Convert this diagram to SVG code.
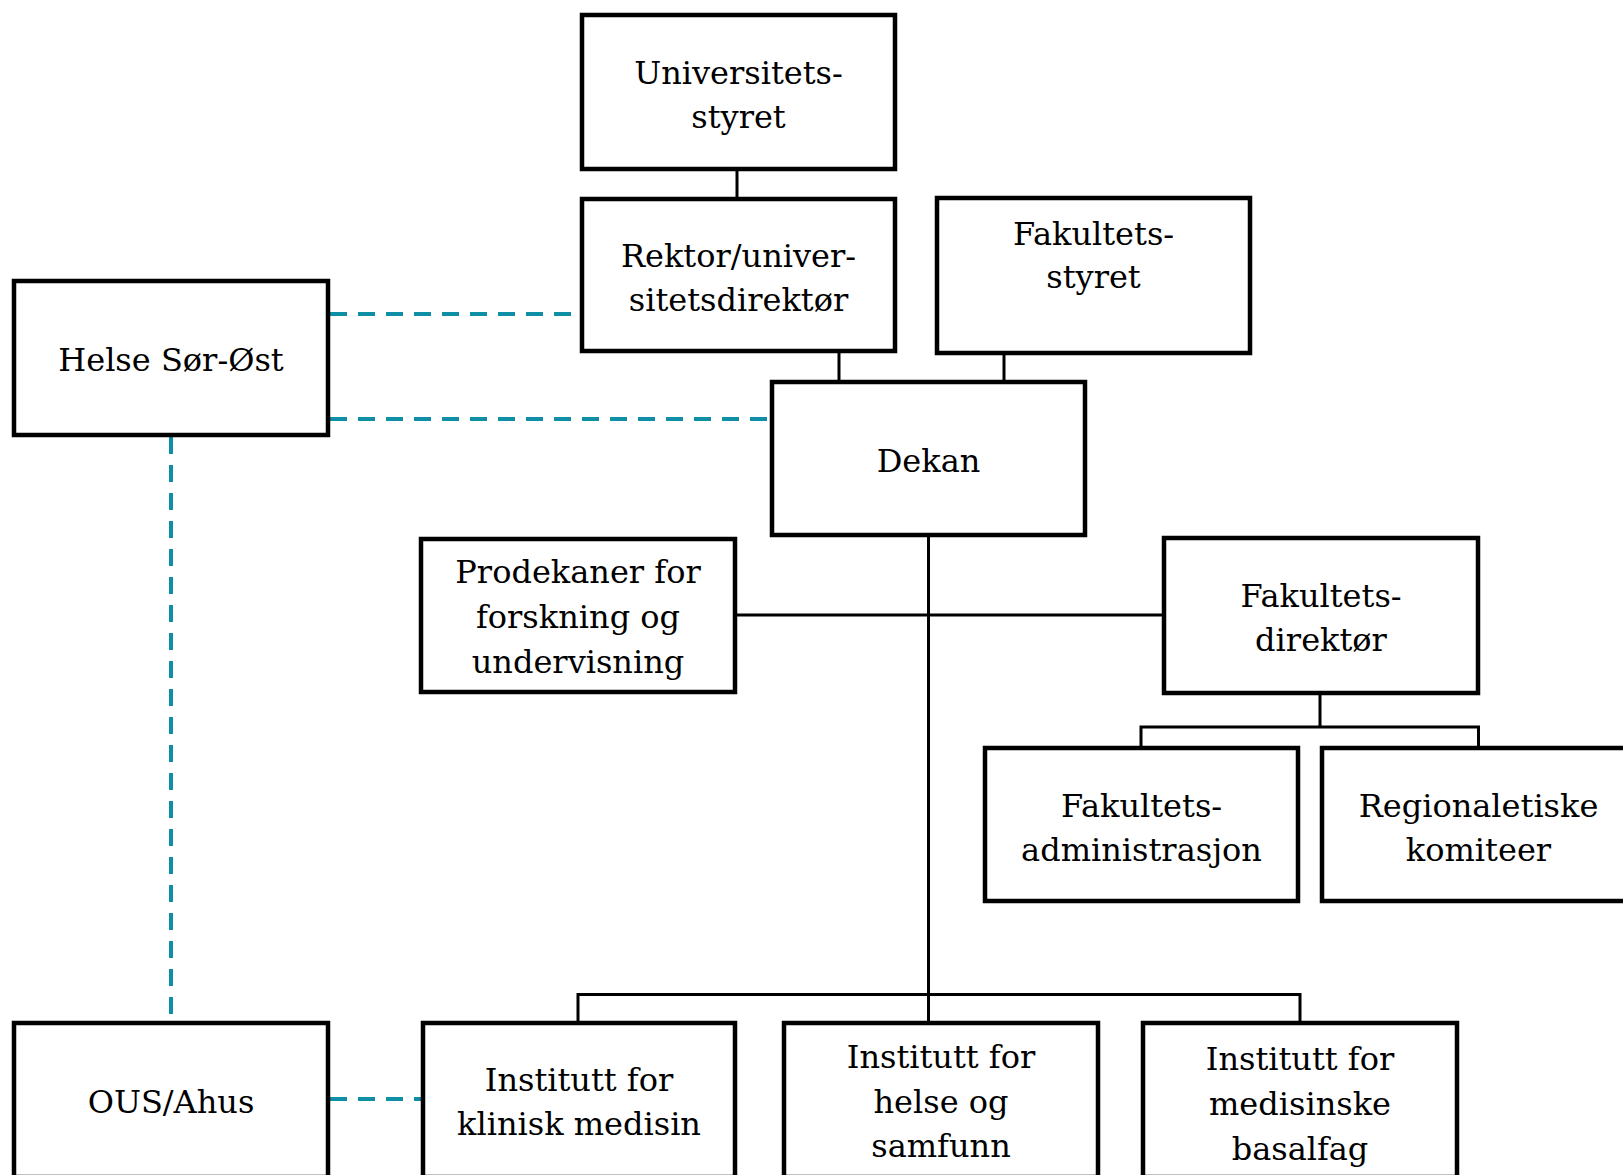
<svg xmlns="http://www.w3.org/2000/svg" width="1623" height="1175" viewBox="0 0 1623 1175">
<style>
.box{fill:#fff;stroke:#000;stroke-width:4.5}
.t{font-family:"DejaVu Serif","Liberation Serif",serif;font-size:32px;fill:#000;text-anchor:middle}
.c{stroke:#000;stroke-width:3}
.c2{stroke:#000;stroke-width:3;fill:none}
.d{stroke:#0f8fa6;stroke-width:4;fill:none;stroke-dasharray:17 11}
</style>
<rect width="1623" height="1175" fill="#fff"/>
<g id="connectors">
<line class="c" x1="737" y1="171" x2="737" y2="197"/>
<line class="c" x1="839" y1="353" x2="839" y2="380"/>
<line class="c" x1="1004" y1="355" x2="1004" y2="380"/>
<line class="c" x1="928.5" y1="537" x2="928.5" y2="1021"/>
<line class="c" x1="737" y1="615" x2="1162" y2="615"/>
<line class="c" x1="1320" y1="695" x2="1320" y2="727"/>
<polyline class="c2" points="1141,746 1141,727 1478.5,727 1478.5,746"/>
<polyline class="c2" points="578,1021 578,994.5 1300,994.5 1300,1021"/>
<line class="d" x1="330" y1="314" x2="572" y2="314"/>
<line class="d" x1="330" y1="419" x2="768" y2="419"/>
<line class="d" x1="171" y1="437" x2="171" y2="1014"/>
<line class="d" x1="330" y1="1099" x2="421" y2="1099"/>
</g>
<g id="universitetsstyret"><rect class="box" x="582" y="15" width="313" height="154"/><text class="t" x="738.5" y="84">Universitets-</text><text class="t" x="738.5" y="128">styret</text></g>
<g id="rektor"><rect class="box" x="582" y="199" width="313" height="152"/><text class="t" x="738.5" y="267">Rektor/univer-</text><text class="t" x="738.5" y="311">sitetsdirektør</text></g>
<g id="fakultetsstyret"><rect class="box" x="937" y="198" width="313" height="155"/><text class="t" x="1093.5" y="245">Fakultets-</text><text class="t" x="1093.5" y="288">styret</text></g>
<g id="helse-sor-ost"><rect class="box" x="14" y="281" width="314" height="154"/><text class="t" x="171" y="371">Helse Sør-Øst</text></g>
<g id="dekan"><rect class="box" x="772" y="382" width="313" height="153"/><text class="t" x="928.5" y="472">Dekan</text></g>
<g id="prodekaner"><rect class="box" x="421" y="539" width="314" height="153"/><text class="t" x="578" y="583">Prodekaner for</text><text class="t" x="578" y="628">forskning og</text><text class="t" x="578" y="673">undervisning</text></g>
<g id="fakultetsdirektor"><rect class="box" x="1164" y="538" width="314" height="155"/><text class="t" x="1321" y="607">Fakultets-</text><text class="t" x="1321" y="651">direktør</text></g>
<g id="fakultetsadministrasjon"><rect class="box" x="985" y="748" width="313" height="153"/><text class="t" x="1141.5" y="817">Fakultets-</text><text class="t" x="1141.5" y="861">administrasjon</text></g>
<g id="regionaletiske"><rect class="box" x="1322" y="748" width="313" height="153"/><text class="t" x="1478.5" y="817">Regionaletiske</text><text class="t" x="1478.5" y="861">komiteer</text></g>
<g id="ous-ahus"><rect class="box" x="14" y="1023" width="314" height="154"/><text class="t" x="171" y="1113">OUS/Ahus</text></g>
<g id="klinisk"><rect class="box" x="423" y="1023" width="312" height="154"/><text class="t" x="579" y="1091">Institutt for</text><text class="t" x="579" y="1135">klinisk medisin</text></g>
<g id="helse-samfunn"><rect class="box" x="784" y="1023" width="314" height="154"/><text class="t" x="941" y="1068">Institutt for</text><text class="t" x="941" y="1113">helse og</text><text class="t" x="941" y="1157">samfunn</text></g>
<g id="medisinske"><rect class="box" x="1143" y="1023" width="314" height="154"/><text class="t" x="1300" y="1070">Institutt for</text><text class="t" x="1300" y="1115">medisinske</text><text class="t" x="1300" y="1160">basalfag</text></g>
</svg>
